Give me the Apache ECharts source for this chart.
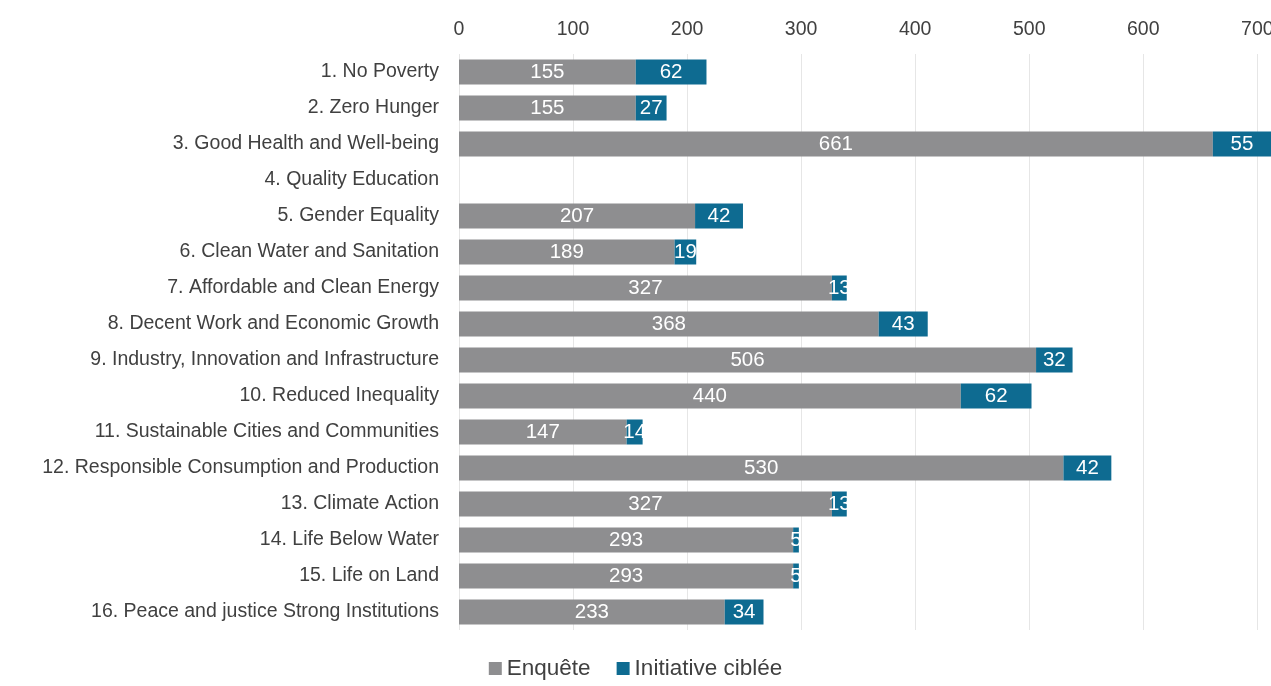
<html>
<head>
    <meta charset='utf-8'/>
    <title>SDG bars</title>
    <style>
        body { margin: 0; padding: 0; background: #fff; }
        #chart { position: absolute; top: 0; left: 0; width: 1271px; height: 686px; }
    </style>
</head>
<body>
<div id='chart'></div>
<script src="https://cdn.jsdelivr.net/npm/echarts@6/dist/echarts.min.js"></script>
<script type="text/javascript">
    var categories = [
        '1. No Poverty',
        '2. Zero Hunger',
        '3. Good Health and Well-being',
        '4. Quality Education',
        '5. Gender Equality',
        '6. Clean Water and Sanitation',
        '7. Affordable and Clean Energy',
        '8. Decent Work and Economic Growth',
        '9. Industry, Innovation and Infrastructure',
        '10. Reduced Inequality',
        '11. Sustainable Cities and Communities',
        '12. Responsible Consumption and Production',
        '13. Climate Action',
        '14. Life Below Water',
        '15. Life on Land',
        '16. Peace and justice Strong Institutions'
    ];
    var enquete = [155, 155, 661, 0, 207, 189, 327, 368, 506, 440, 147, 530, 327, 293, 293, 233];
    var initiative = [62, 27, 55, 0, 42, 19, 13, 43, 32, 62, 14, 42, 13, 5, 5, 34];
    var tickValues = [0, 100, 200, 300, 400, 500, 600, 700];

    var font = 'Liberation Sans';
    var chart = echarts.init(document.getElementById('chart'));

    function barLabel() {
        return {
            show: true,
            position: 'inside',
            color: '#ffffff',
            fontFamily: font,
            fontSize: 20.5,
            formatter: function (p) { return p.value > 0 ? p.value : ''; }
        };
    }

    chart.setOption({
        animation: false,
        textStyle: { fontFamily: font },
        grid: { left: 459, right: 0, top: 54, bottom: 56, containLabel: false, outerBoundsMode: 'none' },
        legend: {
            bottom: 1,
            left: 'center',
            itemWidth: 13,
            itemHeight: 13,
            itemGap: 26,
            icon: 'rect',
            textStyle: { color: '#404040', fontSize: 22.5, fontFamily: font },
            data: ['Enquête', 'Initiative ciblée']
        },
        xAxis: {
            type: 'value',
            position: 'top',
            min: 0,
            max: 712,
            interval: 100,
            axisLine: { show: false },
            axisTick: { show: false },
            axisLabel: {
                color: '#404040',
                fontSize: 19.5,
                fontFamily: font,
                margin: 14,
                showMaxLabel: false,
                formatter: function (v) { return tickValues.indexOf(v) >= 0 ? v : ''; }
            },
            splitLine: { show: true, showMaxLine: false, lineStyle: { color: '#e6e6e6', width: 1 } }
        },
        yAxis: {
            type: 'category',
            inverse: true,
            data: categories,
            axisLine: { show: false },
            axisTick: { show: false },
            axisLabel: { color: '#404040', fontSize: 19.5, fontFamily: font, margin: 20 }
        },
        series: [
            {
                name: 'Enquête',
                type: 'bar',
                stack: 'total',
                barWidth: 25,
                itemStyle: { color: '#8e8e90' },
                label: barLabel(),
                data: enquete
            },
            {
                name: 'Initiative ciblée',
                type: 'bar',
                stack: 'total',
                barWidth: 25,
                itemStyle: { color: '#0e6b91' },
                label: barLabel(),
                data: initiative
            }
        ]
    });
</script>
</body>
</html>
